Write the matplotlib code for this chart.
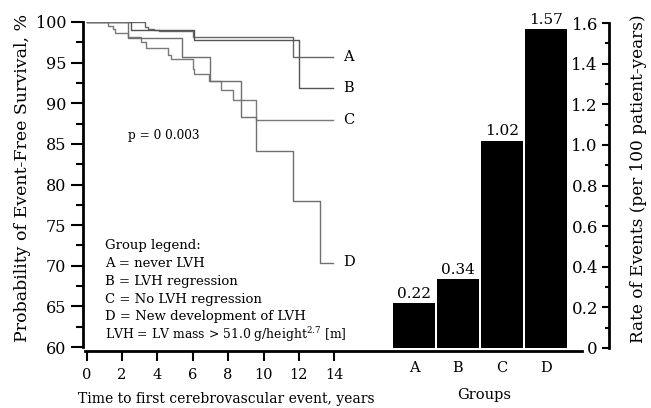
import matplotlib
matplotlib.use("Agg")
import matplotlib.pyplot as plt
from matplotlib.lines import Line2D
from matplotlib.ticker import MultipleLocator, FuncFormatter

plt.rcParams['font.family'] = ['DejaVu Serif']
plt.rcParams['mathtext.fontset'] = 'dejavuserif'

# Kaplan-Meier steps (time in years, survival in %)
a_t = [0, 3.3, 3.5, 3.8, 4.1, 6.0, 11.65, 13.9]
a_s = [100, 99.4, 99.1, 99.0, 98.9, 98.2, 95.7, 95.7]
b_t = [0, 2.5, 6.05, 12.0, 13.9]
b_s = [100, 99.0, 97.8, 91.9, 91.9]
c_t = [0, 1.23, 1.5, 1.6, 2.35, 3.1, 3.35, 4.6, 4.8, 6.0, 6.1, 6.9, 7.6, 8.3, 9.6, 13.9]
c_s = [100, 99.5, 99.2, 98.7, 98.1, 97.6, 96.8, 96.0, 95.4, 94.2, 93.6, 92.7, 91.6, 90.4, 88.0, 88.0]
d_t = [0, 2.35, 5.4, 7.0, 8.7, 9.56, 11.65, 13.2, 13.9]
d_s = [100, 98.0, 95.7, 92.7, 88.3, 84.1, 78.0, 70.4, 70.4]

curve_names = ["A", "B", "C", "D"]
curve_colors = ["#666666", "#555555", "#7a7a7a", "#707070"]

legend_lines = ["Group legend:",
                "A = never LVH",
                "B = LVH regression",
                "C = No LVH regression",
                "D = New development of LVH",
                "LVH = LV mass > 51.0 g/height$^{2.7}$ [m]"]

groups = ["A", "B", "C", "D"]
rates = [0.22, 0.34, 1.02, 1.57]

W, H = 651, 408
fig = plt.figure(figsize=(W / 100, H / 100), dpi=100)

# ---- left: survival curves
ax = fig.add_axes([83 / W, (H - 347) / H, 286.7 / W, 325 / H])
for t, s, nm, col in zip([a_t, b_t, c_t, d_t], [a_s, b_s, c_s, d_s], curve_names, curve_colors):
    ax.plot(t, s, drawstyle="steps-post", color=col, lw=1.0)
    ax.text(t[-1] + 0.6, s[-1], nm, ha="left", va="center", fontsize=10.5)

ax.set_xlim(-0.2, 16)
ax.set_ylim(60, 100)
for sp in ["top", "right", "bottom"]:
    ax.spines[sp].set_visible(False)
ax.spines["left"].set_linewidth(2)
ax.spines["bottom"].set_position(("outward", 3))
ax.set_xticks(range(0, 15, 2))
ax.set_yticks(range(60, 101, 5))
ax.yaxis.set_minor_locator(MultipleLocator(2.5))
ax.tick_params(axis="y", which="major", length=9, width=1.5, labelsize=11.5, pad=3)
ax.tick_params(axis="y", which="minor", length=5, width=1.5)
ax.tick_params(axis="x", length=7, width=1.5, labelsize=10.5, pad=5)
ax.set_xlabel("Time to first cerebrovascular event, years", fontsize=10, labelpad=7)
ax.set_ylabel("Probability of Event-Free Survival, %", fontsize=12.5)
ax.yaxis.set_label_coords(-(83 - 31) / 286.7, 0.52)

ax.text(2.35, 86.0, "p = 0 0.003", fontsize=8.7, va="center")
for i, line in enumerate(legend_lines):
    fs = 9.5 if i < len(legend_lines) - 1 else 8.9
    ax.text(1.05, 72.5 - 2.2 * i, line, fontsize=fs, va="center")

# shared baseline under both panels
fig.add_artist(Line2D([85 / W, 582 / W], [(H - 350.5) / H] * 2, color="black", lw=2))

# ---- right: event rates
ax2 = fig.add_axes([360 / W, (H - 348) / H, 249 / W, 325 / H])
ax2.patch.set_visible(False)
xs = range(len(groups))
ax2.bar(xs, rates, width=0.955, color="black")
for x, r in zip(xs, rates):
    ax2.text(x, r + 0.012, f"{r:.2f}", ha="center", va="bottom", fontsize=11)
ax2.set_xlim(-1.227, 4.432)
ax2.set_ylim(0, 1.6)
for sp in ["top", "right", "bottom"]:
    ax2.spines[sp].set_visible(False)
ax2.spines["left"].set_position(("axes", 1.0))
ax2.spines["left"].set_linewidth(2)
ax2.set_xticks(list(xs))
ax2.set_xticklabels(groups)
ax2.tick_params(axis="x", length=0, labelsize=10.5, pad=9)
ax2.yaxis.set_major_locator(MultipleLocator(0.2))
ax2.yaxis.set_minor_locator(MultipleLocator(0.1))
ax2.yaxis.set_major_formatter(FuncFormatter(lambda v, p: "0" if abs(v) < 1e-9 else f"{v:.1f}"))
ax2.tick_params(axis="y", which="major", length=5, width=1.5, labelsize=12, pad=3)
ax2.tick_params(axis="y", which="minor", length=3, width=1.5)
ax2.set_xlabel("Groups", fontsize=10.5, labelpad=10)
ax2.set_ylabel("Rate of Events (per 100 patient-years)", fontsize=12.2)
ax2.yaxis.set_label_position("right")
ax2.yaxis.set_label_coords((630 - 360) / 249, 0.52)

fig.savefig("out.png", dpi=100)
